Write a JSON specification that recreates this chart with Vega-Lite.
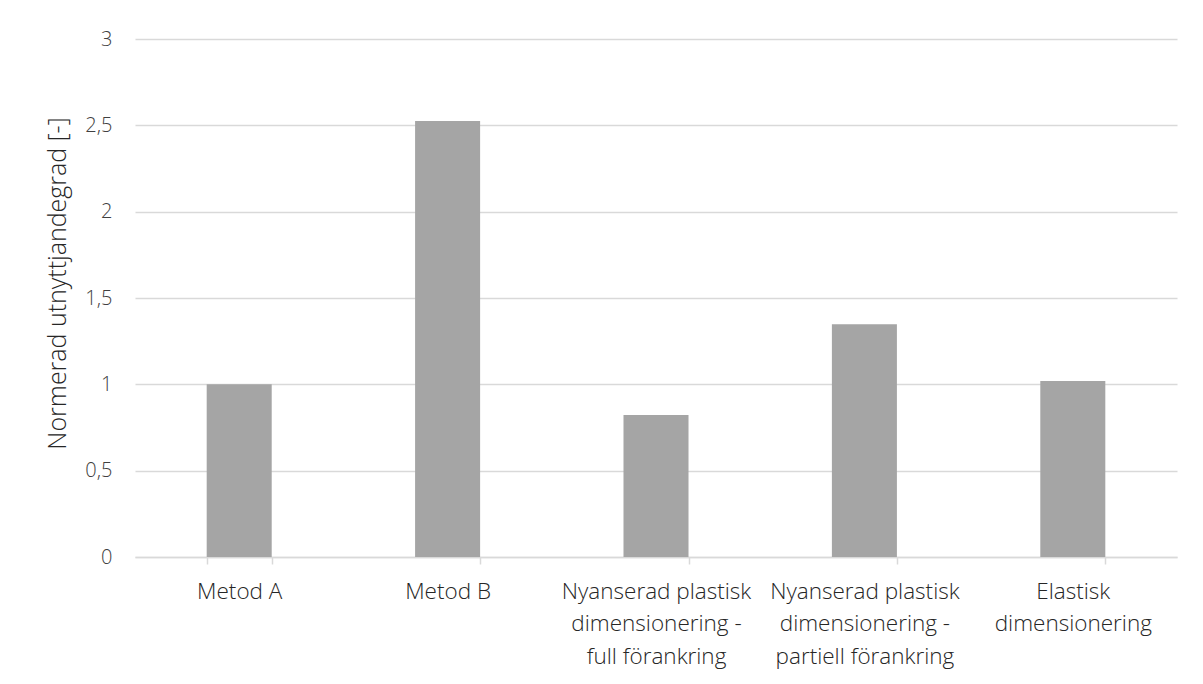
{
  "$schema": "https://vega.github.io/schema/vega-lite/v6.json",
  "width": 1042,
  "height": 518,
  "autosize": "none",
  "padding": {"left": 135, "top": 39, "right": 26, "bottom": 127},
  "background": "#ffffff",
  "config": {
    "font": "Open Sans",
    "view": {"stroke": null}
  },
  "data": {
    "values": [
      {"metod": "Metod A", "utnyttjandegrad": 1.0},
      {"metod": "Metod B", "utnyttjandegrad": 2.525},
      {"metod": "Nyanserad plastisk dimensionering - full förankring", "utnyttjandegrad": 0.823},
      {"metod": "Nyanserad plastisk dimensionering - partiell förankring", "utnyttjandegrad": 1.348},
      {"metod": "Elastisk dimensionering", "utnyttjandegrad": 1.019}
    ]
  },
  "mark": {"type": "bar", "color": "#a5a5a5"},
  "encoding": {
    "x": {
      "field": "metod",
      "type": "nominal",
      "sort": null,
      "scale": {"paddingInner": 0.688, "paddingOuter": 0.344},
      "axis": {
        "title": null,
        "labelAngle": 0,
        "labelFontSize": 22.5,
        "labelFontWeight": 300,
        "labelColor": "#262626",
        "labelLineHeight": 32.5,
        "labelPadding": 16,
        "labelBaseline": "top",
        "labelLimit": 300,
        "tickBand": "extent",
        "tickSize": 7,
        "tickColor": "#d9d9d9",
        "tickWidth": 1.5,
        "domainColor": "#d9d9d9",
        "domainWidth": 1.5,
        "grid": false,
        "labelExpr": "datum.value == 'Nyanserad plastisk dimensionering - full förankring' ? ['Nyanserad plastisk', 'dimensionering -', 'full förankring'] : datum.value == 'Nyanserad plastisk dimensionering - partiell förankring' ? ['Nyanserad plastisk', 'dimensionering -', 'partiell förankring'] : datum.value == 'Elastisk dimensionering' ? ['Elastisk', 'dimensionering'] : datum.value"
      }
    },
    "y": {
      "field": "utnyttjandegrad",
      "type": "quantitative",
      "scale": {"domain": [0, 3], "nice": false},
      "axis": {
        "title": "Normerad utnyttjandegrad [-]",
        "titleFontSize": 25,
        "titleFontWeight": 300,
        "titleColor": "#262626",
        "titlePadding": 14,
        "titleY": 244,
        "values": [0, 0.5, 1, 1.5, 2, 2.5, 3],
        "labelExpr": "replace(format(datum.value, '~g'), '.', ',')",
        "labelFontSize": 20,
        "labelFontWeight": 300,
        "labelColor": "#404040",
        "labelPadding": 23,
        "ticks": false,
        "tickSize": 0,
        "domain": false,
        "grid": true,
        "gridColor": "#d9d9d9",
        "gridWidth": 1.5
      }
    }
  }
}
